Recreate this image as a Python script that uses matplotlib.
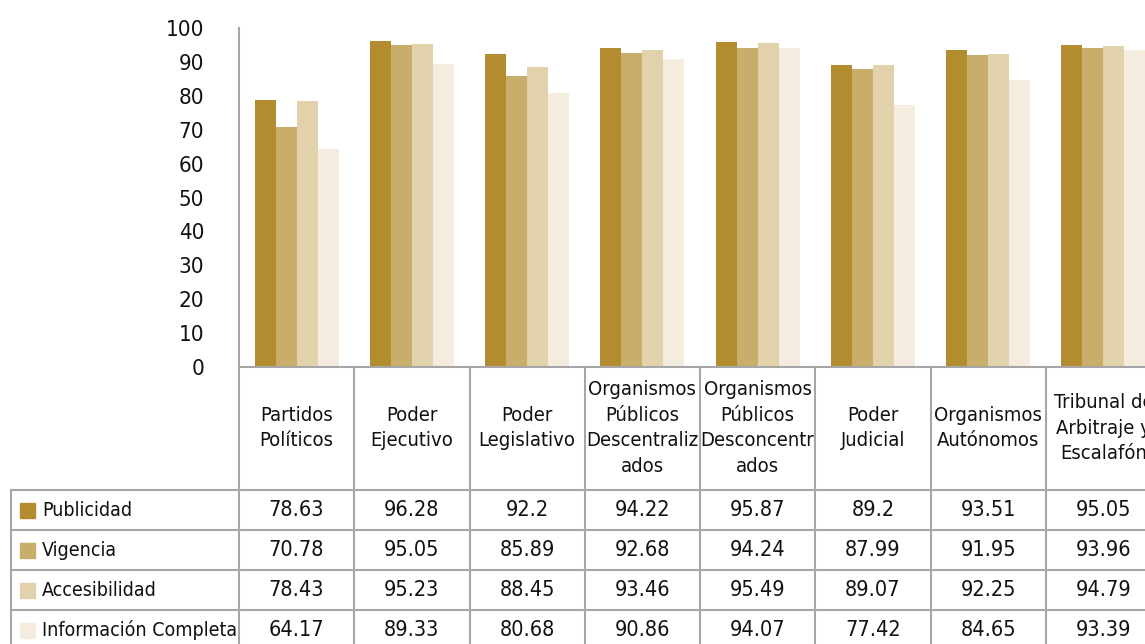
import numpy as np
import matplotlib.pyplot as plt
from matplotlib.transforms import blended_transform_factory
from matplotlib.patches import Rectangle

plt.rcParams['font.family'] = ['DejaVu Sans']
plt.rcParams['font.stretch'] = 'condensed'

categories = ["Partidos\nPolíticos", "Poder\nEjecutivo", "Poder\nLegislativo",
              "Organismos\nPúblicos\nDescentraliz\nados",
              "Organismos\nPúblicos\nDesconcentr\nados",
              "Poder\nJudicial", "Organismos\nAutónomos",
              "Tribunal de\nArbitraje y\nEscalafón"]
series_names = ["Publicidad", "Vigencia", "Accesibilidad", "Información Completa"]
publicidad = [78.63, 96.28, 92.2, 94.22, 95.87, 89.2, 93.51, 95.05]
vigencia = [70.78, 95.05, 85.89, 92.68, 94.24, 87.99, 91.95, 93.96]
accesibilidad = [78.43, 95.23, 88.45, 93.46, 95.49, 89.07, 92.25, 94.79]
info_completa = [64.17, 89.33, 80.68, 90.86, 94.07, 77.42, 84.65, 93.39]
yticks = [0, 10, 20, 30, 40, 50, 60, 70, 80, 90, 100]

series = [publicidad, vigencia, accesibilidad, info_completa]
colors = ["#B28C2F", "#C9AD6A", "#E2D2AB", "#F4ECDF"]

W, H = 1145, 644
fig = plt.figure(figsize=(W / 100, H / 100), dpi=100)

def fy(px):
    # pixel row from top -> figure fraction
    return (H - px) / H

ax_left, ax_right, ax_top, ax_bot = 239, 1161, 28, 367
ax = fig.add_axes([ax_left / W, fy(ax_bot), (ax_right - ax_left) / W, (ax_bot - ax_top) / H])

n = len(categories)
x = np.arange(n)
bw = 0.182
for i, (vals, col) in enumerate(zip(series, colors)):
    ax.bar(x + (i - 1.5) * bw, vals, bw, color=col, label=series_names[i], zorder=2)

ax.set_xlim(-0.5, n - 0.5)
ax.set_ylim(0, 100)
ax.set_yticks(yticks)
ax.tick_params(axis='y', length=0, pad=25, labelsize=16, labelcolor="#111111")
ax.set_xticks([])
for s in ['top', 'right']:
    ax.spines[s].set_visible(False)
for s in ['left', 'bottom']:
    ax.spines[s].set_color("#A6A6A6")
    ax.spines[s].set_linewidth(1.5)

# data table under the chart
tr = blended_transform_factory(ax.transData, fig.transFigure)
trf = fig.transFigure
gray = "#A6A6A6"
header_bot = 490
row_h = 40
rows_y = [header_bot + row_h * k for k in range(len(series) + 1)]

# vertical lines of category columns
for b in np.arange(n + 1) - 0.5:
    ax.plot([b, b], [fy(ax_bot), fy(H + 20)], transform=tr, color=gray, lw=1.5,
            clip_on=False)
# left edge of row label column
fig.add_artist(plt.Line2D([11 / W, 11 / W], [fy(header_bot), fy(H + 20)],
                          color=gray, lw=1.5))
# horizontal lines
for ry in rows_y:
    fig.add_artist(plt.Line2D([11 / W, 1.0], [fy(ry), fy(ry)], color=gray, lw=1.5))

# header labels
for xi, cat in zip(x, categories):
    ax.text(xi, fy(428), cat, transform=tr, ha='center', va='center', fontsize=14.5,
            linespacing=1.45, color="#111111", clip_on=False)

# rows
for r, (name, vals, col) in enumerate(zip(series_names, series, colors)):
    yc = rows_y[r] + row_h / 2
    fig.add_artist(Rectangle((20 / W, fy(yc + 7.5)), 15 / W, 15 / H,
                             transform=trf, color=col))
    fig.text(42 / W, fy(yc), name, ha='left', va='center', fontsize=14, color="#111111")
    for xi, v in zip(x, vals):
        ax.text(xi, fy(yc), f"{v:g}", transform=tr, ha='center', va='center',
                fontsize=15.5, color="#111111", clip_on=False)

fig.savefig("out.png", dpi=100)
